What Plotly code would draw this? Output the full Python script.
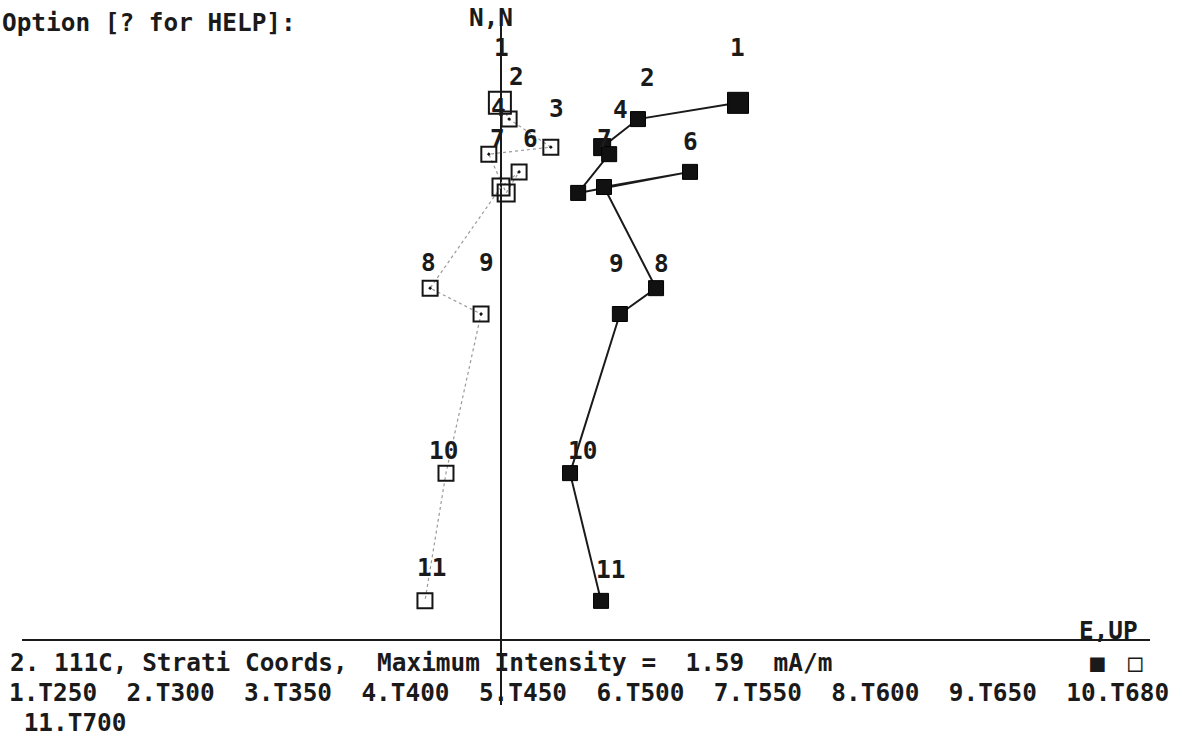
import plotly.graph_objects as go

# ---------------- data (mA/m) ----------------
step_no = ["1", "2", "3", "4", "5", "6", "7", "8", "9", "10", "11"]
step_names = ["T250", "T300", "T350", "T400", "T450", "T500", "T550", "T600", "T650", "T680", "T700"]
east = [0.642, 0.371, 0.274, 0.293, 0.209, 0.512, 0.279, 0.420, 0.322, 0.187, 0.271]
north = [1.455, 1.411, 1.335, 1.316, 1.211, 1.268, 1.227, 0.953, 0.883, 0.452, 0.106]
up = [-0.003, 0.022, 0.135, -0.033, 0.014, 0.049, 0.000, -0.192, -0.054, -0.149, -0.206]
max_intensity = 1.59
sample = "2. 111C"
coords = "Strati Coords"

# ---------------- geometry / style ----------------
W, H = 1178, 743
ox, oy = 501, 640            # origin in pixels
k = max_intensity / 587.0    # data units per pixel
xr = [(0 - ox) * k, (W - ox) * k]
yr = [(oy - H) * k, oy * k]

FONT = "DejaVu Sans Mono"
FS = 24.4
INK = "#1a1a1a"

filled_sizes = [21, 15, 17, 15, 15, 15, 15, 15, 15, 15, 15]
open_sizes = [22, 15, 15, 15, 17, 15, 17, 15, 15, 15, 15]
open_symbols = ["square-open", "square-open-dot", "square-open-dot", "square-open-dot",
                "square-open", "square-open-dot", "square-open", "square-open-dot",
                "square-open-dot", "square-open", "square-open"]

# label offsets in px (dx right, dy down); None = label hidden in original
filled_off = [(-1, -55), (10, -42), None, (11, -45), None, (0, -30), (0, -49),
              (5, -25), (-3, -51), (12, -23), (9, -31)]
open_off = [(2, -55), (7, -43), (6, -39), (10, -47), None, (11, -33), (-4, -49),
            (-2, -26), (5, -52), (-2, -23), (7, -33)]

fig = go.Figure()

# vertical projection (open squares, dotted)
fig.add_trace(go.Scatter(
    x=up, y=north, mode="lines+markers",
    line=dict(color="#9a9a9a", width=1.2, dash="dot"),
    marker=dict(symbol=open_symbols, size=open_sizes, color="#151515", opacity=1,
                line=dict(color="#151515", width=2)),
    hoverinfo="skip", showlegend=False))

# horizontal projection (filled squares, solid)
fig.add_trace(go.Scatter(
    x=east, y=north, mode="lines+markers",
    line=dict(color=INK, width=2),
    marker=dict(symbol="square", size=filled_sizes, color="#111111", opacity=1,
                line=dict(color="#000000", width=1)),
    hoverinfo="skip", showlegend=False))

# axes lines
fig.add_shape(type="line", x0=0, x1=0, y0=(oy - 705) * k, y1=(oy - 22) * k,
              line=dict(color=INK, width=2), layer="below")
fig.add_shape(type="line", x0=(22 - ox) * k, x1=(1150 - ox) * k, y0=0, y1=0,
              line=dict(color=INK, width=2), layer="below")

ann = []
fnt = dict(family=FONT, size=FS, color=INK)

def add_labels(xs, offs):
    for i, o in enumerate(offs):
        if o is None:
            continue
        ann.append(dict(x=xs[i], y=north[i], xref="x", yref="y", text="<b>%s</b>" % step_no[i],
                        showarrow=False, xanchor="center", yanchor="middle",
                        xshift=o[0], yshift=-o[1], font=fnt))

add_labels(east, filled_off)
add_labels(up, open_off)

def px_text(text, x, y, anchor="left"):
    ann.append(dict(x=x / W, y=1 - y / H, xref="paper", yref="paper", text=text,
                    showarrow=False, xanchor=anchor, yanchor="middle", font=fnt))

px_text("<b>Option [? for HELP]:</b>", 0, 22)
px_text("<b>N,N</b>", 491, 18, "center")
px_text("<b>E,UP</b>", 1108, 630, "center")
line1 = "%s, %s,  Maximum Intensity =  %.2f  mA/m" % (sample, coords, max_intensity)
px_text("<b>%s</b>" % line1.replace(" ", "&nbsp;"), 8, 662)
parts = ["%s.%s" % (n, s) for n, s in zip(step_no, step_names)]
line2 = "  ".join(parts[:10])
px_text("<b>%s</b>" % line2.replace(" ", "&nbsp;"), 7, 692)
px_text("<b>&nbsp;%s</b>" % parts[10], 7, 722)
px_text("■", 1097, 662, "center")
px_text("□", 1135, 662, "center")

fig.update_layout(
    width=W, height=H,
    margin=dict(l=0, r=0, t=0, b=0),
    paper_bgcolor="white", plot_bgcolor="white",
    xaxis=dict(range=xr, visible=False, fixedrange=True),
    yaxis=dict(range=yr, visible=False, fixedrange=True),
    annotations=ann,
)

fig.write_html("out.html", config={"displayModeBar": False},
               post_script="document.body.style.margin='0px';document.body.style.overflow='hidden';")
